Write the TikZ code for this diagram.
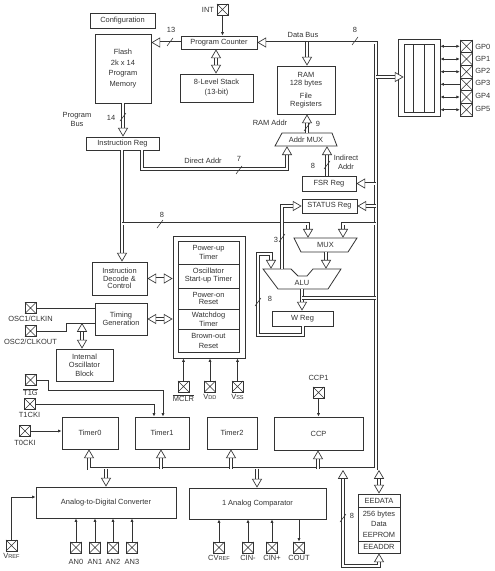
\documentclass[tikz,border=0pt]{standalone}
\usepackage{fontspec}
\setmainfont{Liberation Sans}
\usetikzlibrary{arrows.meta}
\definecolor{ink}{gray}{0.2}
\newcommand{\sm}[1]{{\fontsize{4.2}{5}\selectfont #1}}
\newcommand{\ov}[1]{$\overline{\mbox{#1}}$}
\tikzset{
  x=0.75pt,y=-0.75pt,
  font=\fontsize{5.6}{5.8}\selectfont,
  text=ink,
  hol/.tip={Triangle[length=6.6pt,width=7.6pt,line width=0.5pt,fill=white]},
  sm/.tip={Latex[length=2.6pt,width=2.4pt]},
  box/.style={draw=ink,line width=0.65pt,inner sep=0pt,align=center},
  free/.style={inner sep=0pt,align=center},
  lbl/.style={inner sep=0pt,align=center},
  dbl/.style={draw=ink,line width=0.55pt,double=white,double distance=1.5pt},
  sig/.style={draw=ink,line width=0.55pt},
  xpin/.style={draw=ink,line width=0.55pt,minimum size=8.4pt,inner sep=0pt,
    path picture={\draw[ink,line width=0.4pt]
      (path picture bounding box.north west)--(path picture bounding box.south east)
      (path picture bounding box.north east)--(path picture bounding box.south west);}},
}
% \bx[style]{name}{x1}{y1}{x2}{y2}{text}
\newcommand{\bx}[7][box]{\node[#1,minimum width={(#5-#3)*0.75pt},minimum height={(#6-#4)*0.75pt}]
  (#2) at ({(#3+#5)/2},{(#4+#6)/2}) {#7};}
\newcommand{\busslash}[2]{\draw[ink,line width=0.4pt] ({#1-3},{#2+4})--({#1+3},{#2-4});}
\begin{document}
\begin{tikzpicture}
\useasboundingbox (0,0) rectangle (494,571);
\fill[white] (0,0) rectangle (494,571);

% --- boxes
\bx{config}{90}{13}{155}{28}{Configuration}
\bx{flash}{95}{34}{151}{103}{Flash\\[2.2pt]2k x 14\\[2.2pt]Program\\[2.2pt]Memory}
\bx{pc}{181}{36}{257}{49}{Program Counter}
\bx{stack}{180}{74}{253}{102}{8-Level Stack\\[1.7pt](13-bit)}
\bx{ireg}{86}{137}{159}{150}{Instruction Reg}
\bx{ram}{277}{66}{335}{114}{RAM\\128 bytes\\[4pt]File\\Registers}
\bx{fsr}{302}{176}{356}{191}{FSR Reg}
\bx{status}{302}{199}{357}{213}{STATUS Reg}
\bx{wreg}{272}{311}{333}{326}{W Reg}
\bx{decode}{92}{262}{147}{295}{Instruction\\Decode \&\\Control}
\bx{timing}{95}{303}{147}{335}{Timing\\Generation}
\bx{intosc}{56}{349}{113}{381}{Internal\\[0.6pt]Oscillator\\[0.6pt]Block}
\bx{bigblock}{173}{236}{245}{358}{}
\bx{cella}{178}{241}{239}{264}{Power-up\\[0.4pt]Timer}
\bx{cellb}{178}{264}{239}{288}{Oscillator\\[0.2pt]Start-up Timer}
\bx{cellc}{178}{288}{239}{309}{Power-on\\Reset}
\bx{celld}{178}{309}{239}{329}{Watchdog\\[1pt]Timer}
\bx{celle}{178}{329}{239}{352}{Brown-out\\[1.7pt]Reset}
\bx{timerz}{62}{417}{118}{449}{Timer0}
\bx{timera}{135}{417}{189}{449}{Timer1}
\bx{timerb}{207}{417}{257}{449}{Timer2}
\bx{ccp}{274}{417}{363}{450}{CCP}
\bx{adc}{36}{487}{176}{518}{Analog-to-Digital Converter}
\bx{comp}{189}{488}{326}{519}{1 Analog Comparator}
\bx{ee}{358}{494}{400}{553}{}
\bx{eedata}{358}{494}{400}{507}{EEDATA}
\bx{eeprom}{358}{507}{400}{541}{256 bytes\\[2pt]Data\\[2pt]EEPROM}
\bx{eeaddr}{358}{541}{400}{553}{EEADDR}

% --- port block
\bx{port}{398}{39}{440}{116}{}
\bx{portin}{404}{44}{434}{112}{}
\node[draw=ink,line width=0.6pt,minimum width=8.25pt,minimum height=51pt,inner sep=0pt] (portmid) at (418.5,78) {};

% --- trapezoids, with invisible name-carrying nodes
\bx[free]{addrmux}{275}{133}{337}{146}{Addr MUX}
\draw[ink,line width=0.6pt] (282,133)--(332,133)--(337,146)--(275,146)--cycle;
\bx[free]{mux}{294}{238}{357}{252}{MUX}
\draw[ink,line width=0.6pt] (294,238)--(357,238)--(348,252)--(301,252)--cycle;
\bx[free]{alu}{263}{269}{341}{289}{}
\draw[ink,line width=0.6pt] (263,269)--(291,269)--(298,276)--(307,276)--(313,269)--(341,269)--(328,289)--(278,289)--cycle;
\node[lbl] (alutext) at (302,283) {ALU};

% --- pins
\node[xpin] (int) at (222.5,9.5) {};
\node[xpin] (osca) at (30.5,308) {};
\node[xpin] (oscb) at (30.5,331) {};
\node[xpin] (tg) at (30.5,380) {};
\node[xpin] (tck) at (30,404) {};
\node[xpin] (tz) at (25,431) {};
\node[xpin] (mclr) at (183.5,386.5) {};
\node[xpin] (vdd) at (210,386.5) {};
\node[xpin] (vss) at (237.5,386.5) {};
\node[xpin] (ccpa) at (318.5,392.5) {};
\node[xpin] (vref) at (11.5,545.5) {};
\node[xpin] (ana) at (76,547.5) {};
\node[xpin] (anb) at (95,547.5) {};
\node[xpin] (anc) at (113,547.5) {};
\node[xpin] (and) at (132,547.5) {};
\node[xpin] (cv) at (219,547.5) {};
\node[xpin] (cm) at (248,547.5) {};
\node[xpin] (cp) at (272,547.5) {};
\node[xpin] (co) at (299,547.5) {};
\foreach \n/\y in {a/46.3,b/59,c/71.7,d/84.3,e/97,f/109.7}{
  \node[xpin,minimum size=9.5pt] (gp\n) at (466.5,\y) {};
}

% --- named bus lines
\coordinate (busx) at (376,0);
\coordinate (busy) at (0,468.5);
\coordinate (bustop) at (0,41.5);
\coordinate (upbus) at (0,223.5);

% main data bus
\draw[dbl,hol-hol] (pc.east) -- (busx |- pc.east) -- (busx |- busy) -- (89,0 |- busy) -- (89,0 |- timerz.south);
% internal bus 8 from instruction register
\draw[dbl,-hol] (122,0 |- ireg.south) -- (122,0 |- decode.north);
\draw[dbl,-hol] (122,0 |- upbus) -- (308,0 |- upbus) -- (308,0 |- mux.north);
\draw[dbl,-hol] (busx |- upbus) -- (343,0 |- upbus) -- (343,0 |- mux.north);

% stems
\draw[dbl,-hol] (flash.south -| 123,0) -- (123,0 |- ireg.north);
\draw[dbl,-hol] (pc.west) -- (flash.east |- pc.west);
\draw[dbl,hol-hol] (216,0 |- pc.south) -- (216,0 |- stack.north);
\draw[dbl,-hol] (307,0 |- bustop) -- (307,0 |- ram.north);
\draw[dbl,-hol] (307,0 |- addrmux.north) -- (307,0 |- ram.south);
\draw[dbl,-hol] (142,0 |- ireg.south) -- (142,169) -- (287,169) -- (287,0 |- addrmux.south);
\draw[dbl,-hol] (327,0 |- fsr.north) -- (327,0 |- addrmux.south);
\draw[dbl,-hol] (busx |- fsr.east) -- (fsr.east);
\draw[dbl,-hol] (busx |- status.east) -- (status.east);
\draw[dbl,-hol] (282,0 |- alu.north) -- (282,0 |- status.west) -- (status.west);
\draw[dbl,-hol] (busx |- 0,77) -- (portin.west |- 0,77);
\draw[dbl,-hol] (326,0 |- mux.south) -- (326,0 |- alu.north);
\draw[dbl,-hol] (302,0 |- alu.south) -- (302,0 |- wreg.north);
\draw[dbl] (busx |- 0,298) -- (302,298);
\draw[dbl,-hol] (303,0 |- wreg.south) -- (303,335) -- (258,335) -- (258,254) -- (271,254) -- (271,0 |- alu.north);
\draw[dbl,hol-hol] (decode.east) -- (bigblock.west |- decode.east);
\draw[dbl,hol-hol] (timing.east) -- (bigblock.west |- timing.east);
\draw[dbl,hol-hol] (82,323) -- (82,0 |- intosc.north);
\draw[dbl,-hol] (161,0 |- busy) -- (161,0 |- timera.south);
\draw[dbl,-hol] (231,0 |- busy) -- (231,0 |- timerb.south);
\draw[dbl,-hol] (318,0 |- busy) -- (318,0 |- ccp.south);
\draw[dbl,-hol] (106,0 |- busy) -- (106,0 |- adc.north);
\draw[dbl,-hol] (257,0 |- busy) -- (257,0 |- comp.north);
\draw[dbl,hol-hol] (379,470) -- (379,0 |- eedata.north);
\draw[dbl,hol-hol] (379,0 |- eeaddr.south) -- (379,566) -- (343,566) -- (343,470);

% --- single signals
\draw[sig,-sm] (int.south) -- (222.5,0 |- pc.north);
\draw[sig] (osca.east) -- (timing.west |- osca.east);
\draw[sig] (oscb.east) -- (66,331) -- (66,323) -- (timing.west |- 0,323);
\draw[sig,-sm] (tg.east) -- (48,380) -- (48,390) -- (163,390) -- (163,0 |- timera.north);
\draw[sig,-sm] (tck.east) -- (154,404) -- (154,0 |- timera.north);
\draw[sig,-sm] (tz.east) -- (timerz.west |- tz.east);
\draw[sig,-sm] (mclr.north) -- (mclr.north |- bigblock.south);
\draw[sig,-sm] (vdd.north) -- (vdd.north |- bigblock.south);
\draw[sig,-sm] (vss.north) -- (vss.north |- bigblock.south);
\draw[sig,-sm] (ccpa.south) -- (ccpa.south |- ccp.north);
\draw[sig,-sm] (vref.north) -- (11.5,497) -- (adc.west |- 0,497);
\foreach \p in {ana,anb,anc,and}{\draw[sig,-sm] (\p.north) -- (\p.north |- adc.south);}
\foreach \p in {cv,cm,cp}{\draw[sig,-sm] (\p.north) -- (\p.north |- comp.south);}
\draw[sig,-sm] (co.north |- comp.south) -- (co.north);
\foreach \n in {a,b,c,e,f}{\draw[sig,sm-sm] (port.east |- gp\n.west) -- (gp\n.west);}
\draw[sig,sm-] (port.east |- gpd.west) -- (gpd.west);

% --- width slashes
\busslash{170}{42}
\busslash{123}{117}
\busslash{355}{41}
\busslash{307}{127}
\busslash{239}{170}
\busslash{327}{165}
\busslash{160}{224}
\busslash{282}{238}
\busslash{258}{302}
\busslash{343}{518}

% --- labels
\node[lbl] (lbint) at (208,9.5) {INT};
\node[lbl] (lb13) at (171,30) {13};
\node[lbl] (lb14) at (111,118) {14};
\node[lbl] (lbpb) at (77,119.5) {Program\\[1pt]Bus};
\node[lbl] (lbdb) at (303,35) {Data Bus};
\node[lbl] (lb8a) at (355,30) {8};
\node[lbl] (lbra) at (270,123) {RAM Addr};
\node[lbl] (lb9) at (318,124) {9};
\node[lbl] (lbda) at (203,161) {Direct Addr};
\node[lbl] (lb7) at (239,159) {7};
\node[lbl] (lb8b) at (313,166) {8};
\node[lbl] (lbia) at (346,162.5) {Indirect\\[1pt]Addr};
\node[lbl] (lb8c) at (162,215) {8};
\node[lbl] (lb3) at (276,240) {3};
\node[lbl] (lb8d) at (270,299) {8};
\node[lbl] (lb8e) at (352,516) {8};
\node[lbl] (lbosca) at (30.5,319) {OSC1/CLKIN};
\node[lbl] (lboscb) at (30.5,342) {OSC2/CLKOUT};
\node[lbl] (lbtg) at (30.5,392) {\ov{T1G}};
\node[lbl] (lbtck) at (29.5,415) {T1CKI};
\node[lbl] (lbtz) at (25,443) {T0CKI};
\node[lbl] (lbmclr) at (183.5,398) {\ov{MCLR}};
\node[lbl] (lbvdd) at (210,397) {V\sm{DD}};
\node[lbl] (lbvss) at (237.5,397) {V\sm{SS}};
\node[lbl] (lbccpa) at (318.5,378) {CCP1};
\node[lbl] (lbvref) at (11.5,556) {V\sm{REF}};
\node[lbl] (lbana) at (76,562) {AN0};
\node[lbl] (lbanb) at (95,562) {AN1};
\node[lbl] (lbanc) at (113,562) {AN2};
\node[lbl] (lband) at (132,562) {AN3};
\node[lbl] (lbcv) at (219,557.5) {CV\sm{REF}};
\node[lbl] (lbcm) at (248,558) {CIN-};
\node[lbl] (lbcp) at (272,558) {CIN+};
\node[lbl] (lbco) at (299,558) {COUT};
\foreach \n/\t/\y in {a/GP0/47,b/GP1/59,c/GP2/71,d/GP3/83,e/GP4/96,f/GP5/109}{
  \node[lbl,anchor=west] (lb\n) at (475,\y) {\t};
}
\end{tikzpicture}
\end{document}
